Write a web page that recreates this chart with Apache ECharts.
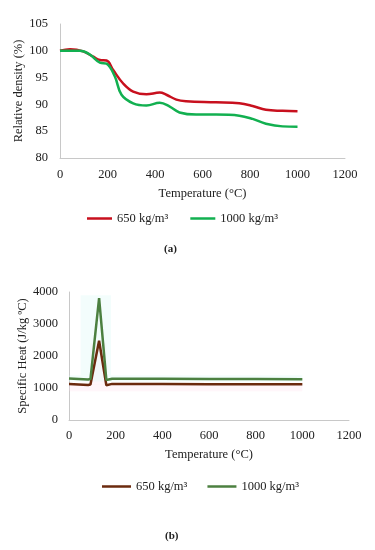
<!DOCTYPE html>
<html>
<head>
<meta charset="utf-8">
<script src="https://cdn.jsdelivr.net/npm/echarts@6/dist/echarts.min.js"></script>
<style>html,body{margin:0;padding:0;background:#fff;}#c{width:375px;height:550px;}</style>
</head>
<body>
<div id="c"></div>
<script>
// Chart (a): relative density (%)
const tempA650 = [0, 42, 98, 140, 168, 196, 224, 266, 308, 364, 420, 448, 490, 531, 657, 755, 811, 867, 937, 1000];
const dens650  = [100, 100.3, 99.9, 98.9, 98.3, 98.2, 96.4, 93.9, 92.4, 91.9, 92.2, 91.8, 90.9, 90.6, 90.4, 90.2, 89.7, 89.0, 88.8, 88.7];
const tempA1000 = [0, 84, 126, 168, 196, 231, 259, 308, 364, 420, 462, 503, 573, 657, 755, 811, 867, 937, 1000];
const dens1000  = [100, 100, 99.3, 97.8, 97.6, 95.2, 91.8, 90.2, 89.8, 90.3, 89.6, 88.5, 88.1, 88.1, 87.9, 87.3, 86.4, 85.9, 85.85];
// Chart (b): specific heat (J/kg ºC)
const tempB = [0, 82, 92, 129, 160, 168, 185, 400, 600, 800, 1000];
const cp650  = [1128, 1097, 1110, 2475, 1086, 1100, 1128, 1125, 1118, 1118, 1118];
const cp1000 = [1295, 1265, 1280, 3812, 1253, 1270, 1290, 1290, 1285, 1280, 1275];

const seriesNames = ['650 kg/m³', '1000 kg/m³'];
const xTicks = [0, 200, 400, 600, 800, 1000, 1200];
const yTicksA = [80, 85, 90, 95, 100, 105];
const yTicksB = [0, 1000, 2000, 3000, 4000];

const zip = (xs, ys) => xs.map((x, i) => [x, ys[i]]);
const FONT = 'Liberation Serif';
const txt = { fontFamily: FONT, fontSize: 12.5, color: '#222' };
const axisLine = { show: true, lineStyle: { color: '#c8c8c8', width: 1 } };
const plain = v => String(v);

const chart = echarts.init(document.getElementById('c'), null, { renderer: 'canvas' });
chart.setOption({
  animation: false,
  backgroundColor: '#fff',
  title: [
    { text: '(a)', left: 164, top: 244, padding: 0, textStyle: { fontFamily: FONT, fontSize: 11, fontWeight: 'bold', color: '#222' } },
    { text: '(b)', left: 165, top: 531, padding: 0, textStyle: { fontFamily: FONT, fontSize: 11, fontWeight: 'bold', color: '#222' } }
  ],
  legend: [
    { left: 82, top: 207, itemWidth: 25, itemHeight: 2.5, itemGap: 22, icon: 'rect',
      textStyle: txt,
      data: [
        { name: seriesNames[0], itemStyle: { color: '#C8101E' } },
        { name: seriesNames[1], itemStyle: { color: '#12B050' } }
      ] },
    { left: 97, top: 475, itemWidth: 29, itemHeight: 2.5, itemGap: 17, icon: 'rect',
      textStyle: txt,
      data: [
        { name: seriesNames[0] + ' ', itemStyle: { color: '#6B2A0E' } },
        { name: seriesNames[1] + ' ', itemStyle: { color: '#4C8040' } }
      ] }
  ],
  grid: [
    { left: 60, top: 24, width: 285, height: 134 },
    { left: 69, top: 292, width: 280, height: 128 }
  ],
  xAxis: [0, 1].map(i => ({
    gridIndex: i, type: 'value', min: xTicks[0], max: xTicks[xTicks.length - 1], interval: 200,
    axisLine: axisLine, axisTick: { show: false }, splitLine: { show: false },
    axisLabel: Object.assign({ margin: i === 0 ? 10 : 9, formatter: plain }, txt),
    name: 'Temperature (°C)', nameLocation: 'middle', nameGap: i === 0 ? 29 : 28, nameMoveOverlap: false, nameTextStyle: txt
  })),
  yAxis: [
    { gridIndex: 0, type: 'value', min: yTicksA[0], max: yTicksA[yTicksA.length - 1], interval: 5,
      axisLine: axisLine, axisTick: { show: false }, splitLine: { show: false },
      axisLabel: Object.assign({ margin: 12, formatter: plain }, txt),
      name: 'Relative density (%)', nameLocation: 'middle', nameGap: 35, nameMoveOverlap: false, nameTextStyle: txt },
    { gridIndex: 1, type: 'value', min: yTicksB[0], max: yTicksB[yTicksB.length - 1], interval: 1000,
      axisLine: axisLine, axisTick: { show: false }, splitLine: { show: false },
      axisLabel: Object.assign({ margin: 11, formatter: plain }, txt),
      name: 'Specific Heat (J/kg ºC)', nameLocation: 'middle', nameGap: 40, nameMoveOverlap: false, nameTextStyle: txt }
  ],
  series: [
    { name: seriesNames[0], type: 'line', xAxisIndex: 0, yAxisIndex: 0, data: zip(tempA650, dens650),
      smooth: 0.4, showSymbol: false, lineStyle: { color: '#C8101E', width: 2.5 }, itemStyle: { color: '#C8101E' } },
    { name: seriesNames[1], type: 'line', xAxisIndex: 0, yAxisIndex: 0, data: zip(tempA1000, dens1000),
      smooth: 0.4, showSymbol: false, lineStyle: { color: '#12B050', width: 2.5 }, itemStyle: { color: '#12B050' } },
    { name: seriesNames[0] + ' ', type: 'line', xAxisIndex: 1, yAxisIndex: 1, data: zip(tempB, cp650),
      showSymbol: false, lineStyle: { color: '#6B2A0E', width: 2.5 }, itemStyle: { color: '#6B2A0E' },
      markArea: { silent: true, itemStyle: { color: 'rgba(255,215,230,0.22)' },
        data: [[{ xAxis: 0, yAxis: 900 }, { xAxis: 1000, yAxis: 1110 }], [{ xAxis: 92, yAxis: 1100 }, { xAxis: 160, yAxis: 2400 }]] } },
    { name: seriesNames[1] + ' ', type: 'line', xAxisIndex: 1, yAxisIndex: 1, data: zip(tempB, cp1000),
      showSymbol: false, lineStyle: { color: '#4C8040', width: 2.5 }, itemStyle: { color: '#4C8040' },
      markArea: { silent: true, itemStyle: { color: 'rgba(215,248,245,0.3)' },
        data: [[{ xAxis: 0, yAxis: 1200 }, { xAxis: 1000, yAxis: 1400 }], [{ xAxis: 50, yAxis: 1400 }, { xAxis: 180, yAxis: 3900 }]] } }
  ]
});
</script>
</body>
</html>
